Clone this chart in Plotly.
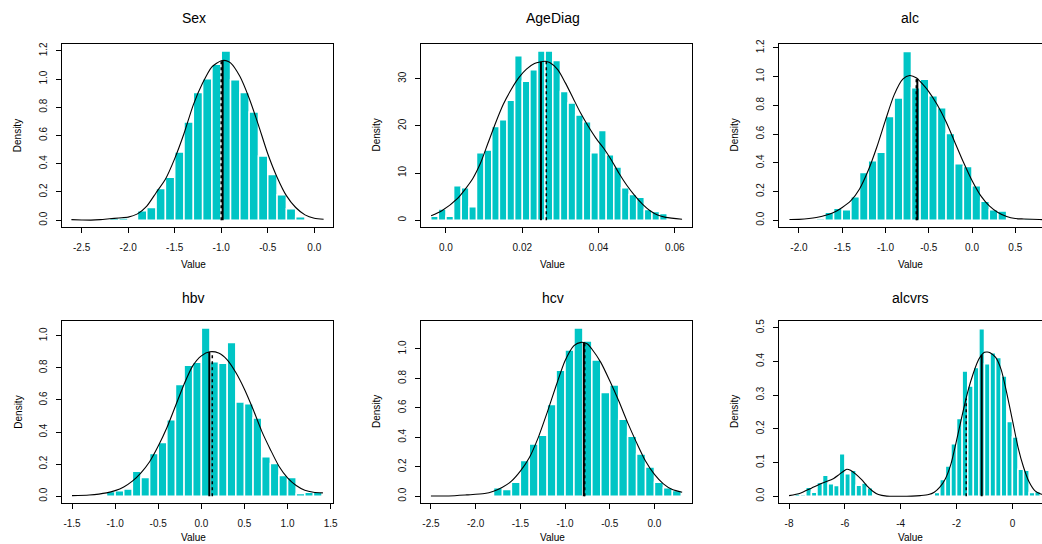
import plotly.graph_objects as go

W, H = 1042, 544

titles = ["Sex", "AgeDiag", "alc", "hbv", "hcv", "alcvrs"]

# ---------------- Sex ----------------
sex_bin_start = -2.2
sex_bin_width = 0.1
sex_density = [0.015, 0.015, 0.01, 0.067, 0.09, 0.224, 0.305, 0.483, 0.695, 0.905, 1.002,
               1.105, 1.198, 0.995, 0.905, 0.767, 0.455, 0.324, 0.181, 0.081, 0.024]
sex_curve_x = [-2.61, -2.5, -2.4, -2.3, -2.2, -2.1, -2.0, -1.9, -1.8, -1.7, -1.6, -1.5, -1.4,
               -1.3, -1.2, -1.1, -1.0, -0.95, -0.9, -0.8, -0.7, -0.6, -0.5, -0.4, -0.3, -0.2,
               -0.1, 0.0, 0.1]
sex_curve_y = [0.004, 0.002, 0.001, 0.004, 0.01, 0.016, 0.022, 0.045, 0.1, 0.195, 0.29, 0.436,
               0.614, 0.817, 0.971, 1.086, 1.129, 1.13, 1.114, 1.019, 0.864, 0.674, 0.471,
               0.305, 0.174, 0.09, 0.038, 0.014, 0.007]
sex_xticks = [-2.5, -2.0, -1.5, -1.0, -0.5, 0.0]
sex_xticklabels = ["-2.5", "-2.0", "-1.5", "-1.0", "-0.5", "0.0"]
sex_yticks = [0.0, 0.2, 0.4, 0.6, 0.8, 1.0, 1.2]
sex_yticklabels = ["0.0", "0.2", "0.4", "0.6", "0.8", "1.0", "1.2"]

# ---------------- AgeDiag ----------------
age_bin_start = -0.004
age_bin_width = 0.002
age_density = [0.86, 2.36, 0.86, 7.29, 6.86, 2.86, 14.29, 14.86, 19.86, 21.29, 25.43, 34.86,
               29.43, 31.86, 35.86, 35.86, 33.86, 27.29, 24.86, 22.29, 20.86, 14.29, 19.0,
               13.86, 11.29, 6.86, 5.43, 4.86, 2.29, 1.86, 1.43]
age_curve_x = [-0.0039, -0.0011, 0.0029, 0.0070, 0.0090, 0.0110, 0.0130, 0.0150, 0.0171,
               0.0191, 0.0211, 0.0232, 0.0260, 0.0272, 0.0293, 0.0313, 0.0333, 0.0353, 0.0373,
               0.0393, 0.0414, 0.0434, 0.0454, 0.0474, 0.0495, 0.0515, 0.0535, 0.0555, 0.0576,
               0.0619]
age_curve_y = [0.93, 2.0, 4.5, 8.8, 12.0, 16.3, 20.6, 24.5, 27.7, 30.2, 32.0, 33.2, 33.7, 33.4,
               31.9, 29.1, 25.9, 22.7, 19.9, 17.4, 15.2, 12.7, 9.9, 7.4, 5.2, 3.4, 2.0, 1.1, 0.6,
               0.2]
age_xticks = [0.0, 0.02, 0.04, 0.06]
age_xticklabels = ["0.0", "0.02", "0.04", "0.06"]
age_yticks = [0, 10, 20, 30]
age_yticklabels = ["0", "10", "20", "30"]

# ---------------- alc ----------------
alc_bin_start = -1.8
alc_bin_width = 0.1
alc_density = [0.012, 0.056, 0.084, 0.073, 0.164, 0.332, 0.414, 0.473, 0.723, 0.851, 1.174,
               0.922, 0.982, 0.866, 0.784, 0.604, 0.393, 0.374, 0.241, 0.133, 0.073, 0.065,
               0.0, 0.0, 0.012]
alc_curve_x = [-2.11, -2.0, -1.8, -1.6, -1.5, -1.4, -1.3, -1.2, -1.1, -1.0, -0.9, -0.8, -0.72,
               -0.64, -0.6, -0.5, -0.4, -0.3, -0.2, -0.1, 0.0, 0.1, 0.2, 0.3, 0.4, 0.5, 0.6,
               0.78, 0.9]
alc_curve_y = [0.005, 0.006, 0.019, 0.054, 0.089, 0.136, 0.218, 0.346, 0.51, 0.697, 0.873,
               0.982, 1.008, 0.99, 0.966, 0.896, 0.802, 0.685, 0.545, 0.405, 0.276, 0.171, 0.1,
               0.054, 0.026, 0.012, 0.009, 0.005, 0.004]
alc_xticks = [-2.0, -1.5, -1.0, -0.5, 0.0, 0.5]
alc_xticklabels = ["-2.0", "-1.5", "-1.0", "-0.5", "0.0", "0.5"]
alc_yticks = [0.0, 0.2, 0.4, 0.6, 0.8, 1.0, 1.2]
alc_yticklabels = ["0.0", "0.2", "0.4", "0.6", "0.8", "1.0", "1.2"]

# ---------------- hbv ----------------
hbv_bin_start = -1.1
hbv_bin_width = 0.1
hbv_density = [0.029, 0.035, 0.046, 0.156, 0.117, 0.267, 0.335, 0.477, 0.696, 0.817, 0.835,
               1.048, 0.8375, 0.829, 0.958, 0.5875, 0.577, 0.4875, 0.246, 0.204, 0.129, 0.117,
               0.017, 0.025, 0.025]
hbv_curve_x = [-1.5, -1.3, -1.1, -1.0, -0.9, -0.8, -0.7, -0.6, -0.5, -0.4, -0.3, -0.2, -0.1,
               0.0, 0.1, 0.2, 0.3, 0.4, 0.5, 0.6, 0.7, 0.8, 0.9, 1.0, 1.1, 1.2, 1.3, 1.41]
hbv_curve_y = [0.004, 0.008, 0.021, 0.035, 0.058, 0.094, 0.146, 0.215, 0.3125, 0.427, 0.5625,
               0.698, 0.8125, 0.875, 0.9, 0.892, 0.85, 0.771, 0.667, 0.542, 0.406, 0.292,
               0.1875, 0.115, 0.067, 0.0375, 0.025, 0.021]
hbv_xticks = [-1.5, -1.0, -0.5, 0.0, 0.5, 1.0, 1.5]
hbv_xticklabels = ["-1.5", "-1.0", "-0.5", "0.0", "0.5", "1.0", "1.5"]
hbv_yticks = [0.0, 0.2, 0.4, 0.6, 0.8, 1.0]
hbv_yticklabels = ["0.0", "0.2", "0.4", "0.6", "0.8", "1.0"]

# ---------------- hcv ----------------
hcv_bin_start = -1.8
hcv_bin_width = 0.1
hcv_density = [0.057, 0.045, 0.095, 0.243, 0.355, 0.414, 0.623, 0.855, 0.993, 1.143, 1.055,
               0.925, 0.705, 0.755, 0.523, 0.407, 0.286, 0.198, 0.095, 0.057, 0.039]
hcv_curve_x = [-2.5, -2.3, -2.1, -1.9, -1.8, -1.7, -1.6, -1.5, -1.4, -1.3, -1.2, -1.1, -1.0,
               -0.9, -0.82, -0.75, -0.7, -0.6, -0.5, -0.4, -0.3, -0.2, -0.1, 0.0, 0.1, 0.2, 0.31]
hcv_curve_y = [0.002, 0.002, 0.009, 0.018, 0.034, 0.061, 0.102, 0.17, 0.261, 0.398, 0.568,
               0.75, 0.92, 1.023, 1.045, 1.034, 1.0, 0.909, 0.784, 0.648, 0.5, 0.364, 0.239,
               0.148, 0.084, 0.045, 0.027]
hcv_xticks = [-2.5, -2.0, -1.5, -1.0, -0.5, 0.0]
hcv_xticklabels = ["-2.5", "-2.0", "-1.5", "-1.0", "-0.5", "0.0"]
hcv_yticks = [0.0, 0.2, 0.4, 0.6, 0.8, 1.0]
hcv_yticklabels = ["0.0", "0.2", "0.4", "0.6", "0.8", "1.0"]

# ---------------- alcvrs ----------------
alcvrs_bin_start = -7.8
alcvrs_bin_width = 0.2
alcvrs_density = [0.007, 0.005, 0.027, 0.012, 0.041, 0.062, 0.037, 0.032, 0.126, 0.067, 0.077,
                  0.033, 0.039, 0.025,
                  0.0, 0.0, 0.0, 0.0, 0.0, 0.0, 0.0, 0.0, 0.0, 0.0,
                  0.002, 0.011, 0.05, 0.09, 0.156, 0.231, 0.372, 0.327, 0.382, 0.497, 0.393,
                  0.426, 0.412, 0.357, 0.222, 0.176, 0.08, 0.077, 0.011, 0.014]
alcvrs_curve_x = [-8.0, -7.6, -7.2, -6.8, -6.4, -6.2, -6.0, -5.93, -5.8, -5.6, -5.4, -5.2, -5.0,
                  -4.8, -4.5, -4.0, -3.6, -3.3, -3.0, -2.8, -2.6, -2.4, -2.2, -2.0, -1.8, -1.6,
                  -1.4, -1.2, -1.0, -0.9, -0.8, -0.6, -0.4, -0.2, 0.0, 0.2, 0.4, 0.6, 0.8, 1.02,
                  1.3]
alcvrs_curve_y = [0.002, 0.009, 0.024, 0.039, 0.053, 0.065, 0.077, 0.08, 0.077, 0.065, 0.049,
                  0.03, 0.015, 0.005, 0.0005, 0.0, 0.0005, 0.002, 0.005, 0.012, 0.027, 0.052,
                  0.096, 0.166, 0.24, 0.31, 0.365, 0.407, 0.427, 0.428, 0.426, 0.412, 0.375,
                  0.305, 0.226, 0.146, 0.086, 0.042, 0.017, 0.007, 0.003]
alcvrs_xticks = [-8, -6, -4, -2, 0]
alcvrs_xticklabels = ["-8", "-6", "-4", "-2", "0"]
alcvrs_yticks = [0.0, 0.1, 0.2, 0.3, 0.4, 0.5]
alcvrs_yticklabels = ["0.0", "0.1", "0.2", "0.3", "0.4", "0.5"]

# solid (median) and dotted (mean) reference lines, with the height they reach
median_values = [-0.985, 0.0249, -0.632, 0.0926, -0.79, -1.10]
median_tops = [1.13, 33.6, 0.985, 0.90, 1.045, 0.42]
mean_values = [-1.0, 0.0263, -0.644, 0.127, -0.78, -1.655]
mean_tops = [1.129, 33.7, 0.99, 0.895, 1.045, 0.29]

# axis ranges (R style 4% padding)
x_ranges = [[-2.711, 0.201], [-0.00655, 0.0645], [-2.231, 0.809],
            [-1.616, 1.527], [-2.611, 0.42], [-8.36, 1.06]]
y_ranges = [[-0.048, 1.248], [-1.44, 37.34], [-0.047, 1.227],
            [-0.042, 1.092], [-0.046, 1.19], [-0.02, 0.52]]

panels = [
    (sex_bin_start, sex_bin_width, sex_density, sex_curve_x, sex_curve_y,
     sex_xticks, sex_xticklabels, sex_yticks, sex_yticklabels),
    (age_bin_start, age_bin_width, age_density, age_curve_x, age_curve_y,
     age_xticks, age_xticklabels, age_yticks, age_yticklabels),
    (alc_bin_start, alc_bin_width, alc_density, alc_curve_x, alc_curve_y,
     alc_xticks, alc_xticklabels, alc_yticks, alc_yticklabels),
    (hbv_bin_start, hbv_bin_width, hbv_density, hbv_curve_x, hbv_curve_y,
     hbv_xticks, hbv_xticklabels, hbv_yticks, hbv_yticklabels),
    (hcv_bin_start, hcv_bin_width, hcv_density, hcv_curve_x, hcv_curve_y,
     hcv_xticks, hcv_xticklabels, hcv_yticks, hcv_yticklabels),
    (alcvrs_bin_start, alcvrs_bin_width, alcvrs_density, alcvrs_curve_x, alcvrs_curve_y,
     alcvrs_xticks, alcvrs_xticklabels, alcvrs_yticks, alcvrs_yticklabels),
]

# layout geometry in pixels
col_left = [62, 421, 779]
col_right = [333, 692, 1042]
row_top = [44, 321]
row_bottom = [227, 503]
label_center_x = [193.5, 552.5, 910]
density_label_x = [17.7, 376, 734]
title_center_y = [18.4, 297.5]
value_center_y = [264.8, 537.0]

BAR_COLOR = "#00C5C5"
FONT = "Liberation Sans, Arial, Helvetica, sans-serif"

fig = go.Figure()
layout = dict(
    width=W, height=H, margin=dict(l=0, r=0, t=0, b=0),
    paper_bgcolor="white", plot_bgcolor="white", showlegend=False,
    font=dict(family=FONT, size=10, color="#000000"),
    annotations=[],
)

for i, (bstart, bw, dens, cx, cy, xt, xtl, yt, ytl) in enumerate(panels):
    r, c = divmod(i, 3)
    suffix = "" if i == 0 else str(i + 1)
    xa, ya = "x" + suffix, "y" + suffix

    centers = [bstart + (k + 0.5) * bw for k in range(len(dens))]
    bx = [cc for cc, d in zip(centers, dens) if d > 0]
    by = [d for d in dens if d > 0]
    fig.add_trace(go.Bar(x=bx, y=by, width=bw, xaxis=xa, yaxis=ya,
                         marker=dict(color=BAR_COLOR, line=dict(color="white", width=1.5))))
    fig.add_trace(go.Scatter(x=cx, y=cy, mode="lines", xaxis=xa, yaxis=ya,
                             line=dict(color="black", width=1.1, shape="spline", smoothing=0.7)))
    fig.add_trace(go.Scatter(x=[median_values[i]] * 2, y=[0, median_tops[i]], mode="lines",
                             xaxis=xa, yaxis=ya, line=dict(color="black", width=2)))
    fig.add_trace(go.Scatter(x=[mean_values[i]] * 2, y=[0, mean_tops[i]], mode="lines",
                             xaxis=xa, yaxis=ya, line=dict(color="black", width=1.5, dash="dot")))

    axis_common = dict(
        showgrid=False, zeroline=False, showline=True, linecolor="black", linewidth=1,
        ticks="outside", ticklen=5, tickwidth=1, tickcolor="black",
        tickfont=dict(family=FONT, size=10, color="#111111"), automargin=False,
    )
    layout["xaxis" + suffix] = dict(
        axis_common, domain=[col_left[c] / W, col_right[c] / W], anchor=ya,
        range=x_ranges[i], tickmode="array", tickvals=xt, ticktext=xtl,
        mirror=True, ticklabelstandoff=6,
    )
    layout["yaxis" + suffix] = dict(
        axis_common, domain=[1 - row_bottom[r] / H, 1 - row_top[r] / H], anchor=xa,
        range=y_ranges[i], tickmode="array", tickvals=yt, ticktext=ytl,
        mirror=(c != 2), tickangle=-90, ticklabelstandoff=5,
    )

    layout["annotations"].append(dict(
        text=titles[i], x=label_center_x[c] / W, y=1 - title_center_y[r] / H,
        xref="paper", yref="paper", showarrow=False, xanchor="center", yanchor="middle",
        font=dict(family=FONT, size=14, color="black")))
    layout["annotations"].append(dict(
        text="Value", x=label_center_x[c] / W, y=1 - value_center_y[r] / H,
        xref="paper", yref="paper", showarrow=False, xanchor="center", yanchor="middle",
        font=dict(family=FONT, size=10, color="black")))
    layout["annotations"].append(dict(
        text="Density", x=density_label_x[c] / W,
        y=1 - (row_top[r] + row_bottom[r]) / 2 / H,
        xref="paper", yref="paper", showarrow=False, xanchor="center", yanchor="middle",
        textangle=-90, font=dict(family=FONT, size=10, color="black")))

fig.update_layout(**layout)
fig.write_html("out.html")
